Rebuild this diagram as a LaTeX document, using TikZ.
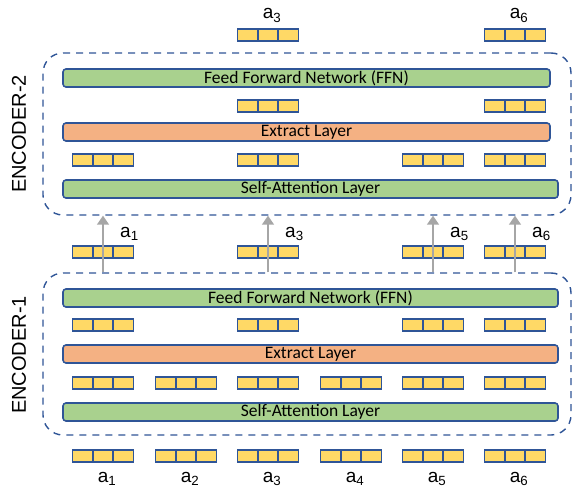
\documentclass[tikz,border=0pt]{standalone}
\usepackage{fontspec}
\setmainfont{Liberation Sans}
\newfontfamily\barfont{Carlito}
\usetikzlibrary{arrows.meta,calc}
\definecolor{barGreen}{HTML}{A9D18E}
\definecolor{barOrange}{HTML}{F4B183}
\definecolor{cellYellow}{HTML}{FFD966}
\definecolor{lineBlue}{HTML}{2F5597}
\definecolor{flowGray}{HTML}{A6A6A6}
\tikzset{
    layer/.style={draw=lineBlue, line width=1.6pt, rounded corners=3pt, minimum height=18pt, inner sep=0pt,
        font=\barfont\fontsize{17.5}{17.5}\selectfont},
    vec/.style={draw=lineBlue, fill=cellYellow, line width=1.6pt, minimum width=61pt, minimum height=12.5pt, inner sep=0pt,
        path picture={\foreach \k in {1,2}{
            \draw[lineBlue, line width=1.6pt]
                ($(path picture bounding box.south west)!\k/3!(path picture bounding box.south east)$) --
                ($(path picture bounding box.north west)!\k/3!(path picture bounding box.north east)$);}}},
    encbox/.style={draw=lineBlue, line width=1.4pt, dash pattern=on 7pt off 6pt, rounded corners=20pt, inner sep=0pt},
    enclabel/.style={rotate=90, font=\fontsize{20}{20}\selectfont},
    tok/.style={font=\fontsize{19}{19}\selectfont, inner sep=0pt},
    flow/.style={draw=flowGray, line width=1.5pt, -{Triangle[length=9pt, width=12pt]}}
}
\begin{document}
\begin{tikzpicture}[x=1pt, y=-1pt]
    \useasboundingbox (0,0) rectangle (573,487);

    % encoder frames
    \node[encbox, minimum width=528pt, minimum height=162pt] (enc2) at (307,134) {};
    \node[encbox, minimum width=528pt, minimum height=162pt] (enc1) at (307,354) {};
    \node[enclabel] (enc2lbl) at (19,134) {ENCODER-2};
    \node[enclabel] (enc1lbl) at (19,355) {ENCODER-1};

    % layers
    \node[layer, fill=barGreen, minimum width=487pt] (e2ffn) at (306.5,78) {Feed Forward Network (FFN)};
    \node[layer, fill=barOrange, minimum width=487pt] (e2ext) at (306.5,132) {Extract Layer};
    \node[layer, fill=barGreen, minimum width=495pt] (e2sa) at (310.5,189) {Self-Attention Layer};
    \node[layer, fill=barGreen, minimum width=495pt] (e1ffn) at (310.5,298) {Feed Forward Network (FFN)};
    \node[layer, fill=barOrange, minimum width=495pt] (e1ext) at (310.5,354) {Extract Layer};
    \node[layer, fill=barGreen, minimum width=495pt] (e1sa) at (310.5,412) {Self-Attention Layer};

    % token vectors
    \foreach \i/\x in {1/103,2/186,3/268,4/351,5/433,6/515}{
        \node[vec] (in\i) at (\x,456) {};
        \node[tok, anchor=base] (inlbl\i) at (\x+4,482) {a\textsubscript{\i}};
        \node[vec] (e1v1\i) at (\x,383) {};
    }
    \foreach \i/\x in {1/103,3/268,5/433,6/515}{
        \node[vec] (e1v2\i) at (\x,325) {};
        \node[vec] (mid\i) at (\x,252) {};
        \node[vec] (e2v1\i) at (\x,160) {};
        \draw[flow] (mid\i |- enc1.north) -- (mid\i |- enc2.south);
        \node[tok, anchor=base west] (midlbl\i) at (\x+17,237) {a\textsubscript{\i}};
    }
    \foreach \i/\x in {3/268,6/515}{
        \node[vec] (e2v2\i) at (\x,106) {};
        \node[vec] (out\i) at (\x,35) {};
        \node[tok, anchor=base] (outlbl\i) at (\x+4,19) {a\textsubscript{\i}};
    }
\end{tikzpicture}
\end{document}
